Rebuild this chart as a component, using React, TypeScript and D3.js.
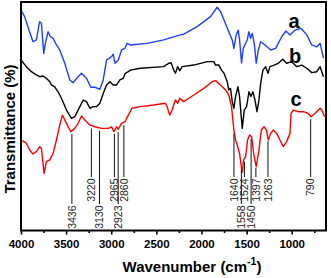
import React, { useEffect, useRef } from 'react';
import * as d3 from 'd3';

// FTIR spectra, [wavenumber, transmittance]
const seriesA: [number, number][] = [
  [4000, 96.5], [3960, 93.6], [3905, 87.0], [3867, 82.6], [3830, 83.4], [3794, 91.4],
  [3774, 90.7], [3748, 77.5], [3730, 81.9], [3700, 87.0], [3674, 84.8], [3644, 84.1],
  [3607, 81.2], [3570, 79.0], [3515, 73.2], [3459, 65.9], [3422, 64.7], [3367, 67.3],
  [3330, 68.8], [3274, 66.6], [3226, 62.7], [3181, 62.7], [3126, 61.8], [3089, 65.9],
  [3052, 74.6], [2996, 76.1], [2978, 77.2], [2959, 73.2], [2922, 74.6], [2885, 79.0],
  [2848, 79.7], [2826, 81.9], [2789, 81.2], [2604, 81.9], [2419, 83.4], [2233, 85.6],
  [2196, 85.9], [2048, 89.2], [1900, 93.6], [1826, 97.7], [1789, 95.8], [1750, 92.1],
  [1697, 87.0], [1659, 83.4], [1641, 79.7], [1615, 85.6], [1593, 87.7], [1578, 83.4],
  [1556, 73.3], [1537, 79.7], [1519, 81.2], [1493, 83.4], [1474, 87.0], [1456, 84.1],
  [1437, 86.3], [1415, 81.9], [1393, 73.2], [1370, 79.0], [1344, 82.6], [1296, 81.2],
  [1233, 79.0], [1178, 79.7], [1111, 84.8], [1063, 87.3], [1019, 85.6], [963, 87.7],
  [897, 88.5], [833, 85.6], [778, 81.2], [722, 80.4], [685, 81.9], [648, 75.4],
];

const seriesB: [number, number][] = [
  [4000, 74.6], [3941, 71.7], [3885, 69.5], [3830, 68.1], [3793, 67.3], [3756, 67.6],
  [3719, 66.6], [3681, 65.1], [3663, 63.7], [3626, 62.9], [3589, 60.7], [3552, 57.9],
  [3496, 52.7], [3441, 49.1], [3404, 49.8], [3367, 52.7], [3311, 57.1], [3274, 56.4],
  [3237, 53.5], [3200, 54.2], [3163, 54.2], [3126, 55.7], [3089, 60.0], [3052, 63.7],
  [3015, 65.1], [2978, 63.7], [2941, 63.7], [2904, 65.9], [2867, 66.6], [2844, 68.8],
  [2811, 69.5], [2789, 70.2], [2678, 71.0], [2419, 71.7], [2363, 73.2], [2337, 73.4],
  [2307, 70.2], [2289, 68.8], [2263, 71.7], [2241, 69.9], [2215, 71.7], [2085, 72.4],
  [1937, 73.9], [1863, 73.9], [1844, 72.4], [1807, 72.4], [1778, 70.2], [1750, 68.8],
  [1715, 65.1], [1697, 61.5], [1678, 62.2], [1659, 56.4], [1641, 53.5], [1622, 58.6],
  [1596, 62.9], [1578, 58.6], [1548, 44.7], [1526, 52.7], [1500, 54.2], [1474, 60.7],
  [1452, 58.6], [1430, 60.7], [1407, 57.1], [1385, 52.0], [1363, 57.1], [1344, 64.4],
  [1319, 70.2], [1289, 71.7], [1263, 68.8], [1241, 71.7], [1196, 72.4], [1148, 73.2],
  [1100, 74.9], [1056, 73.2], [1000, 73.9], [944, 71.7], [889, 72.4], [833, 71.0],
  [778, 69.1], [722, 69.5], [685, 71.7], [648, 67.3],
];

const seriesC: [number, number][] = [
  [4000, 39.6], [3941, 38.2], [3904, 35.2], [3867, 33.5], [3830, 34.5], [3793, 36.7],
  [3774, 36.0], [3744, 25.0], [3719, 30.1], [3681, 30.9], [3644, 33.8], [3607, 39.6],
  [3570, 46.2], [3541, 50.5], [3496, 46.9], [3448, 43.2], [3404, 44.7], [3367, 46.9],
  [3330, 50.1], [3293, 48.4], [3237, 46.2], [3181, 45.4], [3107, 44.7], [3033, 44.7],
  [2996, 45.4], [2970, 43.2], [2941, 45.4], [2922, 44.3], [2885, 46.9], [2848, 47.6],
  [2811, 50.5], [2770, 53.5], [2678, 54.2], [2530, 54.9], [2400, 55.7], [2381, 54.2],
  [2352, 50.5], [2326, 52.7], [2289, 57.1], [2263, 55.7], [2241, 57.9], [2196, 56.4],
  [2085, 59.3], [1974, 62.2], [1881, 65.1], [1844, 65.6], [1789, 63.7], [1733, 61.5],
  [1697, 59.3], [1667, 54.2], [1641, 44.0], [1622, 39.6], [1604, 37.4], [1578, 33.8],
  [1556, 27.2], [1548, 25.5], [1533, 30.9], [1511, 32.3], [1489, 39.6], [1467, 41.8],
  [1444, 41.1], [1422, 33.8], [1393, 27.9], [1363, 35.2], [1337, 44.0], [1307, 45.4],
  [1281, 44.0], [1259, 39.6], [1233, 42.5], [1204, 44.0], [1167, 42.5], [1130, 39.6],
  [1093, 36.7], [1056, 38.9], [1019, 42.5], [1007, 51.3], [981, 52.7], [926, 52.0],
  [870, 52.0], [822, 51.3], [785, 49.8], [741, 51.3], [685, 53.5], [667, 52.7],
  [637, 49.8],
];

const seriesNames = ['a', 'b', 'c'];
const peakLabels = [3436, 3220, 3130, 2965, 2923, 2860, 1640, 1558, 1524, 1450, 1397, 1263, 790];
const majorTicks = [4000, 3500, 3000, 2500, 2000, 1500, 1000];
const minorTicks = [3750, 3250, 2750, 2250, 1750, 1250, 750];

// layout only: which peak labels sit on the lower row
const lowerRow = new Set([3436, 3130, 2923, 1558, 1450]);

const FONT = '"Liberation Sans", Arial, Helvetica, sans-serif';

const Chart = ({ width = 331, height = 278 }) => {
  const svgRef = useRef<SVGSVGElement>(null);

  useEffect(() => {
    const svg = d3.select(svgRef.current);
    svg.selectAll('*').remove();

    const left = 21, right = 326, top = 2, bottom = 230.5;

    const x = d3.scaleLinear().domain([4000, 620]).range([left, right]);
    const y = d3.scaleLinear().domain([0, 100]).range([bottom, top]);

    const line = d3.line<[number, number]>()
      .x((d) => x(d[0]))
      .y((d) => y(d[1]));

    const colors = ['#1f3dff', '#000000', '#ff0000'];
    [seriesA, seriesB, seriesC].forEach((s, i) => {
      svg.append('path')
        .datum(s)
        .attr('fill', 'none')
        .attr('stroke', colors[i])
        .attr('stroke-width', 1.4)
        .attr('stroke-linejoin', 'round')
        .attr('d', line);
    });

    // value of curve c at a wavenumber (for the marker line start)
    const cAt = (wn: number) => {
      for (let i = 0; i < seriesC.length - 1; i++) {
        const [w0, v0] = seriesC[i];
        const [w1, v1] = seriesC[i + 1];
        if (wn <= w0 && wn >= w1) return v0 + (v1 - v0) * (w0 - wn) / (w0 - w1);
      }
      return seriesC[seriesC.length - 1][1];
    };

    const peaks = svg.append('g');
    peakLabels.forEach((wn) => {
      const px = x(wn);
      const yEnd = lowerRow.has(wn) ? 204 : 177;
      peaks.append('line')
        .attr('x1', px).attr('x2', px)
        .attr('y1', y(cAt(wn)) + 3).attr('y2', yEnd)
        .attr('stroke', '#111')
        .attr('stroke-width', 1);
      peaks.append('text')
        .attr('transform', `translate(${px},${yEnd + 1.5}) rotate(-90)`)
        .attr('text-anchor', 'end')
        .attr('dy', '0.35em')
        .style('font-family', FONT)
        .style('font-size', '10.5px')
        .style('fill', '#222')
        .text(wn);
    });

    // series letters
    const letterPos = [[294, 28], [295, 63], [296, 106]];
    seriesNames.forEach((n, i) => {
      svg.append('text')
        .attr('x', letterPos[i][0])
        .attr('y', letterPos[i][1])
        .attr('text-anchor', 'middle')
        .style('font-family', FONT)
        .style('font-weight', 'bold')
        .style('font-size', '20px')
        .text(n);
    });

    // bottom axis
    const axis = svg.append('g')
      .attr('transform', `translate(0,${bottom})`)
      .call(d3.axisBottom(x).tickValues(majorTicks).tickFormat(d3.format('d'))
        .tickSizeInner(4).tickSizeOuter(0).tickPadding(5.6));
    axis.select('.domain').remove();
    axis.selectAll('line').attr('stroke-width', 1.6);
    axis.selectAll('text')
      .style('font-family', FONT)
      .style('font-weight', 'bold')
      .style('font-size', '11.5px')
      .attr('fill', '#000');

    const minor = svg.append('g')
      .attr('transform', `translate(0,${bottom})`)
      .call(d3.axisBottom(x).tickValues(minorTicks).tickSizeInner(2.5).tickSizeOuter(0).tickFormat(() => ''));
    minor.select('.domain').remove();
    minor.selectAll('line').attr('stroke-width', 1.6);

    // frame
    svg.append('rect')
      .attr('x', left).attr('y', top)
      .attr('width', right - left).attr('height', bottom - top)
      .attr('fill', 'none')
      .attr('stroke', '#000')
      .attr('stroke-width', 2);

    // axis titles
    const xt = svg.append('text')
      .attr('x', 192)
      .attr('y', 271.7)
      .attr('text-anchor', 'middle')
      .style('font-family', FONT)
      .style('font-weight', 'bold')
      .style('font-size', '15px');
    xt.append('tspan').text('Wavenumber (cm');
    xt.append('tspan').attr('dy', -7).style('font-size', '10.5px').text('-1');
    xt.append('tspan').attr('dy', 7).text(')');

    svg.append('text')
      .attr('transform', `translate(15,129) rotate(-90)`)
      .attr('text-anchor', 'middle')
      .style('font-family', FONT)
      .style('font-weight', 'bold')
      .style('font-size', '15px')
      .text('Transmittance (%)');
  }, [width, height]);

  return (
    <svg
      ref={svgRef}
      width={width}
      height={height}
      style={{ position: 'absolute', left: 0, top: 0, background: '#fff' }}
    />
  );
};

export default function App() {
  return <Chart />;
}
